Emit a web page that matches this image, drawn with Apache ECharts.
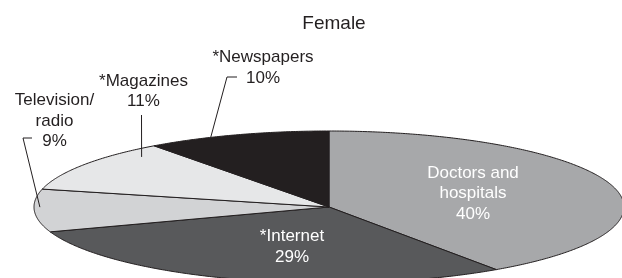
<!DOCTYPE html>
<html>
<head>
<meta charset="utf-8">
<script src="https://cdn.jsdelivr.net/npm/echarts@6/dist/echarts.min.js"></script>
<style>
  html, body { margin: 0; padding: 0; background: #fff; }
  #chart { width: 622px; height: 278px; }
</style>
</head>
<body>
<div id="chart"></div>
<script>
// data, clockwise from 12 o'clock
const CATEGORIES = ["Doctors and\nhospitals", "*Internet", "Television/\nradio", "*Magazines", "*Newspapers"];
const VALUES = [40, 29, 9, 11, 10];
const COLORS = ["#a7a8aa", "#58595b", "#d2d3d5", "#e6e7e8", "#231f20"];

// flattened pie geometry (px)
const PIE = { cx: 329, cy: 207, rx: 295, ry: 76 };
const INK = "#231f20";
const FONT = "Liberation Sans, Arial, sans-serif";

// label placement; lead = leader line (t: position inside slice, r: radius fraction)
const LABEL_LAYOUT = [
  { x: 473, y: 193.5, color: "#fff" },
  { x: 292, y: 247, color: "#fff" },
  { x: 54.5, y: 121, color: INK, lead: { t: 0.58, r: 0.98, pts: [[32, 138], [23, 138]] } },
  { x: 143.5, y: 91.5, color: INK, lead: { t: 0.81, r: 0.915, pts: [[141.5, 115]] } },
  { x: 263, y: 68, color: INK, lead: { t: 0.35, r: 1.0, pts: [[237, 77], [227, 77]] } },
];

const TOTAL = VALUES.reduce((s, v) => s + v, 0);

function onEllipse(a, r) {
  return [PIE.cx + r * PIE.rx * Math.sin(a), PIE.cy - r * PIE.ry * Math.cos(a)];
}

function renderItem(params, api) {
  const i = params.dataIndex;
  let before = 0;
  for (let k = 0; k < i; k++) before += VALUES[k];
  const a0 = (before / TOTAL) * Math.PI * 2;
  const a1 = ((before + api.value(0)) / TOTAL) * Math.PI * 2;

  const pts = [[PIE.cx, PIE.cy]];
  const steps = Math.max(2, Math.ceil((a1 - a0) / (Math.PI / 360)));
  for (let s = 0; s <= steps; s++) pts.push(onEllipse(a0 + ((a1 - a0) * s) / steps, 1));

  const children = [
    {
      type: "polygon",
      shape: { points: pts },
      style: { fill: COLORS[i], stroke: INK, lineWidth: 1 },
      z2: 1,
    },
  ];

  const lay = LABEL_LAYOUT[i];
  if (lay.lead) {
    const anchor = onEllipse(a0 + (a1 - a0) * lay.lead.t, lay.lead.r);
    children.push({
      type: "polyline",
      shape: { points: lay.lead.pts.concat([anchor]) },
      style: { stroke: INK, lineWidth: 1, fill: null },
      z2: 15,
    });
  }
  children.push({
    type: "text",
    x: lay.x,
    y: lay.y,
    style: {
      text: CATEGORIES[i] + "\n" + api.value(0) + "%",
      fill: lay.color,
      fontSize: 17,
      fontFamily: FONT,
      align: "center",
      verticalAlign: "middle",
      lineHeight: 20.5,
    },
    z2: 20,
  });

  return { type: "group", children };
}

const chart = echarts.init(document.getElementById("chart"));
chart.setOption({
  backgroundColor: "#fff",
  animation: false,
  title: {
    text: "Female",
    left: 329,
    top: 9,
    textAlign: "center",
    textStyle: { color: INK, fontSize: 19, fontWeight: "normal", fontFamily: FONT },
  },
  series: [
    {
      type: "custom",
      coordinateSystem: "none",
      renderItem,
      data: VALUES.map((v, i) => ({ name: CATEGORIES[i], value: [v] })),
    },
  ],
});
</script>
</body>
</html>
